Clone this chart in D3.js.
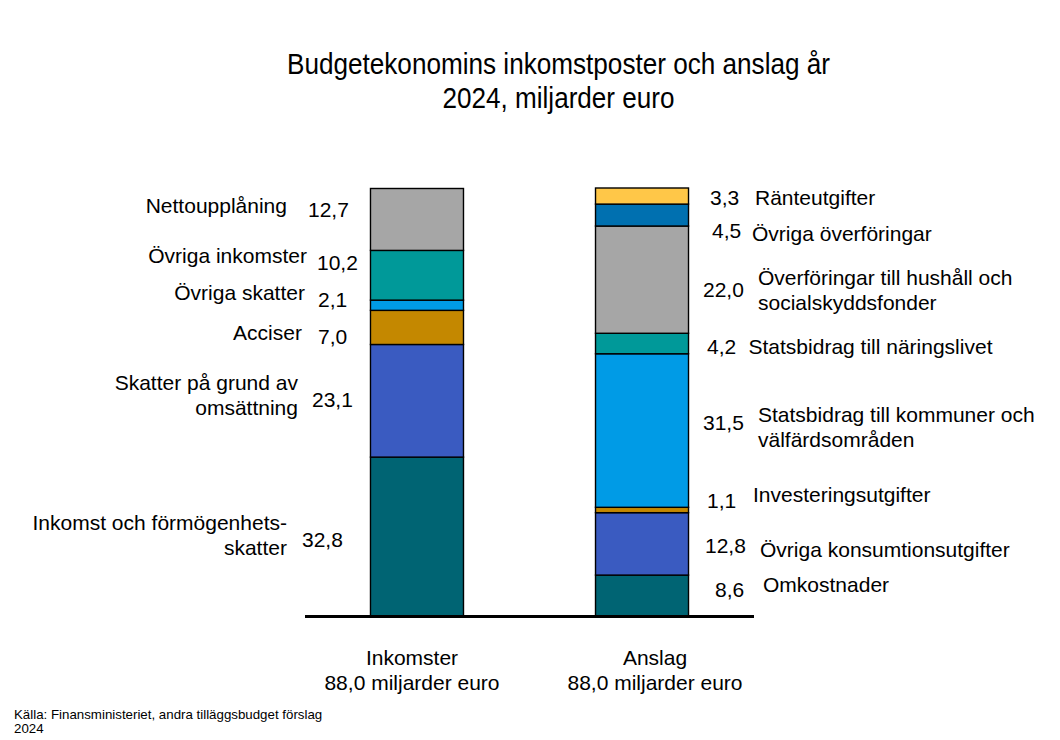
<!DOCTYPE html>
<html>
<head>
<meta charset="utf-8">
<script src="https://cdn.jsdelivr.net/npm/d3@7"></script>
<style>
  html, body { margin: 0; padding: 0; background: #fff; }
  svg { display: block; }
  text { font-family: "Liberation Sans", Arial, sans-serif; fill: #000; }
</style>
</head>
<body>
<svg id="chart" width="1060" height="740"></svg>
<script>
// ---------- data ----------
const categories = ["Inkomster", "Anslag"];
const categoryTotals = ["88,0 miljarder euro", "88,0 miljarder euro"];

// Incomes, bottom to top
const incomeNames = ["Inkomst och förmögenhets-|skatter", "Skatter på grund av|omsättning", "Acciser", "Övriga skatter", "Övriga inkomster", "Nettoupplåning"];
const incomeValues = [32.8, 23.1, 7.0, 2.1, 10.2, 12.7];

// Appropriations, bottom to top
const expenseNames = ["Omkostnader", "Övriga konsumtionsutgifter", "Investeringsutgifter", "Statsbidrag till kommuner och|välfärdsområden", "Statsbidrag till näringslivet", "Överföringar till hushåll och|socialskyddsfonder", "Övriga överföringar", "Ränteutgifter"];
const expenseValues = [8.6, 12.8, 1.1, 31.5, 4.2, 22.0, 4.5, 3.3];

const titleLines = ["Budgetekonomins inkomstposter och anslag år", "2024, miljarder euro"];
const sourceLines = ["Källa: Finansministeriet, andra tilläggsbudget förslag", "2024"];

// ---------- styles / layout ----------
const incomeColors = ["#006473", "#3a5bc1", "#c48800", "#009be6", "#009999", "#a6a6a6"];
const expenseColors = ["#006473", "#3a5bc1", "#c48800", "#009be6", "#009999", "#a6a6a6", "#0070b0", "#ffc748"];

// label layout: offsets from bar edge (x) and segment middle (y), px
const incomeLabelLayout = [
  {nx: 83.5, ny: -7.0, vx: 68.5, vy: 9.7},
  {nx: 72.5, ny: -10.5, vx: 58.5, vy: 6.2},
  {nx: 68.5, ny: 12.8, vx: 52.5, vy: 16.1},
  {nx: 65.5, ny: -5.0, vx: 52.5, vy: 1.7},
  {nx: 63.5, ny: -11.8, vx: 53.5, vy: -5.1},
  {nx: 83.5, ny: -6.0, vx: 62.5, vy: -2.6}
];
const expenseLabelLayout = [
  {vx: 26.5, vy: 0.8, nx: 74.5, ny: -4.2},
  {vx: 16.5, vy: 9.5, nx: 71.5, ny: 12.8},
  {vx: 18.5, vy: -1.5, nx: 64.5, ny: -7.8},
  {vx: 14.5, vy: -0.5, nx: 69.5, ny: -8.7},
  {vx: 18.5, vy: 10.0, nx: 60.0, ny: 10.0},
  {vx: 14.5, vy: 17.2, nx: 69.5, ny: 5.5},
  {vx: 23.5, vy: 23.0, nx: 63.5, ny: 26.4},
  {vx: 21.5, vy: 8.8, nx: 66.5, ny: 8.8}
];
const categoryLabelDx = [-5, 13];

const svg = d3.select("#chart");
const labelSize = 21;
const lineGap = 25;

const x = d3.scaleBand().domain(categories).range([305, 754]).paddingInner(0.5867).paddingOuter(0.291);
const y = d3.scaleLinear().domain([0, 88]).range([617, 188]);

function stack(values) {
  let acc = 0;
  return values.map(v => { const s = {y0: acc, y1: acc + v, v}; acc += v; return s; });
}
const fmt = v => d3.format(".1f")(v).replace(".", ",");

const series = [
  {cat: categories[0], names: incomeNames, values: incomeValues, colors: incomeColors, layout: incomeLabelLayout, side: "left"},
  {cat: categories[1], names: expenseNames, values: expenseValues, colors: expenseColors, layout: expenseLabelLayout, side: "right"}
];

series.forEach(s => {
  const segs = stack(s.values);
  const g = svg.append("g");
  g.selectAll("rect").data(segs).join("rect")
    .attr("x", x(s.cat))
    .attr("width", x.bandwidth())
    .attr("y", d => y(d.y1))
    .attr("height", d => y(d.y0) - y(d.y1))
    .attr("fill", (d, i) => s.colors[i])
    .attr("stroke", "#000")
    .attr("stroke-width", 1.4);

  const bx0 = x(s.cat), bx1 = x(s.cat) + x.bandwidth();
  segs.forEach((d, i) => {
    const mid = (y(d.y0) + y(d.y1)) / 2;
    const L = s.layout[i];
    const lines = s.names[i].split("|");
    const vt = g.append("text").attr("font-size", labelSize).text(fmt(d.v));
    const nt = g.append("text").attr("font-size", labelSize);
    if (s.side === "left") {
      vt.attr("x", bx0 - L.vx).attr("y", mid + L.vy).attr("text-anchor", "start");
      nt.attr("text-anchor", "end");
      lines.forEach((ln, k) => nt.append("tspan").attr("x", bx0 - L.nx).attr("y", mid + L.ny + k * lineGap).text(ln));
    } else {
      vt.attr("x", bx1 + L.vx).attr("y", mid + L.vy).attr("text-anchor", "start");
      nt.attr("text-anchor", "start");
      lines.forEach((ln, k) => nt.append("tspan").attr("x", bx1 + L.nx).attr("y", mid + L.ny + k * lineGap).text(ln));
    }
  });
});

// baseline
svg.append("line")
  .attr("x1", x.range()[0]).attr("x2", x.range()[1])
  .attr("y1", y(0) - 0.5).attr("y2", y(0) - 0.5)
  .attr("stroke", "#000").attr("stroke-width", 3);

// category labels
categories.forEach((c, i) => {
  const cx = x(c) + x.bandwidth() / 2 + categoryLabelDx[i];
  svg.append("text").attr("x", cx).attr("y", 665).attr("text-anchor", "middle").attr("font-size", 21).text(c);
  svg.append("text").attr("x", cx).attr("y", 690).attr("text-anchor", "middle").attr("font-size", 21).text(categoryTotals[i]);
});

// title
const titleWidths = [543, 232];
titleLines.forEach((t, i) => {
  svg.append("text")
    .attr("x", 558.5).attr("y", 74 + i * 34)
    .attr("text-anchor", "middle")
    .attr("font-size", 30)
    .style("font-family", "'Liberation Sans Narrow', 'Arial Narrow', 'Liberation Sans', sans-serif")
    .attr("textLength", titleWidths[i])
    .attr("lengthAdjust", "spacingAndGlyphs")
    .text(t);
});

// source
sourceLines.forEach((t, i) => {
  svg.append("text").attr("x", 14).attr("y", 719 + i * 13.5).attr("font-size", 13.3).text(t);
});
</script>
</body>
</html>
